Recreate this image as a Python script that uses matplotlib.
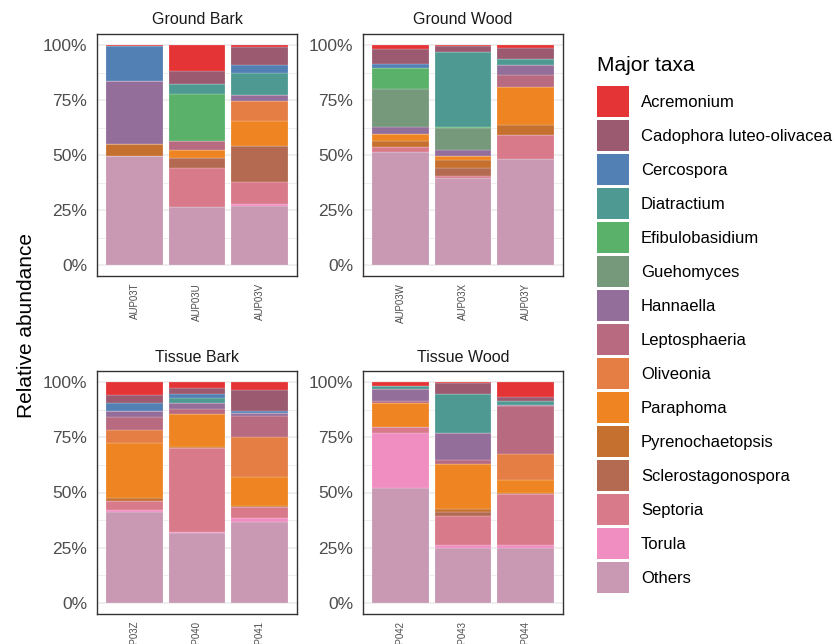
import matplotlib.pyplot as plt
import numpy as np
from matplotlib.patches import Rectangle
from matplotlib.ticker import FixedLocator

plt.rcParams["font.family"] = ["Liberation Sans", "DejaVu Sans"]

panels = ["Ground Bark", "Ground Wood", "Tissue Bark", "Tissue Wood"]
samples = ["AUP03T", "AUP03U", "AUP03V",
           "AUP03W", "AUP03X", "AUP03Y",
           "AUP03Z", "AUP040", "AUP041",
           "AUP042", "AUP043", "AUP044"]

taxa = ["Acremonium", "Cadophora luteo-olivacea", "Cercospora", "Diatractium",
        "Efibulobasidium", "Guehomyces", "Hannaella", "Leptosphaeria",
        "Oliveonia", "Paraphoma", "Pyrenochaetopsis", "Sclerostagonospora",
        "Septoria", "Torula", "Others"]

# relative abundance (%) per sample, same order as `samples`
acremonium = [0.3, 11.8, 0.7, 1.8, 0.5, 1.5, 5.9, 2.8, 3.6, 1.8, 0.5, 6.8]
cadophora = [0, 6.1, 8.3, 7.0, 2.8, 4.9, 3.5, 2.3, 9.4, 0, 4.9, 1.7]
cercospora = [16.0, 0, 3.8, 1.5, 0, 0, 3.6, 2.0, 0.7, 0, 0, 0]
diatractium = [0, 4.4, 10.0, 0, 33.8, 2.7, 0, 2.4, 0, 1.1, 17.4, 1.6]
efibulobasidium = [0, 21.2, 0, 9.8, 0.5, 0, 0, 0, 0, 0, 0, 0]
guehomyces = [0, 0, 0, 17.0, 10.1, 0, 0, 0, 0, 0, 0, 0]
hannaella = [28.5, 0, 2.7, 3.5, 2.6, 4.5, 2.7, 2.4, 1.5, 5.7, 12.5, 0.5]
leptosphaeria = [0, 4.2, 0, 0, 0, 5.4, 6.0, 2.7, 9.8, 1.0, 1.9, 22.1]
oliveonia = [0, 0, 9.1, 0, 0, 0, 5.8, 0, 17.9, 0, 0, 11.8]
paraphoma = [0, 3.8, 11.2, 3.0, 2.0, 17.4, 25.1, 14.7, 13.2, 10.6, 20.4, 5.9]
pyrenochaetopsis = [5.6, 0, 0, 2.9, 3.5, 4.5, 1.2, 0.5, 0.5, 0, 1.4, 0.5]
sclerostagonospora = [0, 4.5, 16.6, 0, 3.6, 0, 0, 0, 0, 0, 1.6, 0]
septoria = [0, 17.5, 9.8, 2.3, 1.2, 10.9, 4.1, 38.2, 5.1, 2.6, 13.2, 22.9]
torula = [0, 0, 0.8, 0, 0, 0, 1.1, 0.3, 1.5, 25.3, 1.2, 1.4]
others = [49.6, 26.5, 27.0, 51.2, 39.4, 48.2, 41.0, 31.7, 36.8, 51.9, 25.0, 24.8]

abundance = [acremonium, cadophora, cercospora, diatractium, efibulobasidium,
             guehomyces, hannaella, leptosphaeria, oliveonia, paraphoma,
             pyrenochaetopsis, sclerostagonospora, septoria, torula, others]

colors = ["#E53436", "#9C5A70", "#527FB4", "#4E9A92", "#5AB16A",
          "#75997A", "#946E9A", "#B86A80", "#E57E45", "#EE8522",
          "#C67030", "#B46A50", "#D97A8B", "#F08DC1", "#C998B3"]

W, H = 836, 644
fig = plt.figure(figsize=(W / 100, H / 100), dpi=100)


def px_box(left, top, right, bottom):
    return [left / W, 1 - bottom / H, (right - left) / W, (bottom - top) / H]


boxes = [px_box(97, 34, 297, 276), px_box(363, 34, 563, 276),
         px_box(97, 371.3, 297, 613.7), px_box(363, 371.3, 563, 613.7)]

for p, title in enumerate(panels):
    ax = fig.add_axes(boxes[p])
    x = np.arange(3)
    bottom = np.zeros(3)
    # ggplot stacks the first level on top, so draw from Others upwards
    for vals, col in zip(reversed(abundance), reversed(colors)):
        v = np.array(vals[3 * p:3 * p + 3]) / 100
        ax.bar(x, v, 0.9, bottom=bottom, color=col,
               edgecolor=(1, 1, 1, 0.45), linewidth=0.3)
        bottom += v

    ax.set_xlim(-0.6, 2.6)
    ax.set_ylim(-0.05, 1.05)
    ax.set_xticks(x)
    ax.set_xticklabels(samples[3 * p:3 * p + 3], rotation=90,
                       fontsize=7, color="#4D4D4D")
    ax.set_yticks([0, 0.25, 0.5, 0.75, 1.0])
    ax.set_yticklabels(["0%", "25%", "50%", "75%", "100%"],
                       fontsize=12.5, color="#4D4D4D")
    ax.yaxis.set_minor_locator(FixedLocator([0.125, 0.375, 0.625, 0.875]))
    ax.tick_params(axis="both", which="both", length=0)
    ax.tick_params(axis="y", pad=7)
    ax.tick_params(axis="x", pad=5)
    ax.grid(axis="y", which="major", color="#EBEBEB", linewidth=1.1)
    ax.grid(axis="y", which="minor", color="#EBEBEB", linewidth=0.6)
    ax.set_axisbelow(True)
    for s in ax.spines.values():
        s.set_color("#333333")
        s.set_linewidth(1.0)
    ax.set_title(title, fontsize=11.5, pad=7, color="#1A1A1A")

fig.text(27 / W, 1 - 326 / H, "Relative abundance", rotation=90,
         fontsize=15, ha="center", va="center")

# legend drawn in pixel coordinates on the right
lax = fig.add_axes([580 / W, 0, (W - 580) / W, 1])
lax.set_xlim(580, W)
lax.set_ylim(H, 0)
lax.axis("off")
lax.text(597, 65, "Major taxa", fontsize=15, va="center", ha="left")
for i, (name, col) in enumerate(zip(taxa, colors)):
    top = 85.7 + i * 34.05
    lax.add_patch(Rectangle((597, top), 32, 31, facecolor=col,
                            edgecolor="none"))
    lax.text(641, top + 16.5, name, fontsize=12, va="center", ha="left")

fig.savefig("out.png", dpi=100)
